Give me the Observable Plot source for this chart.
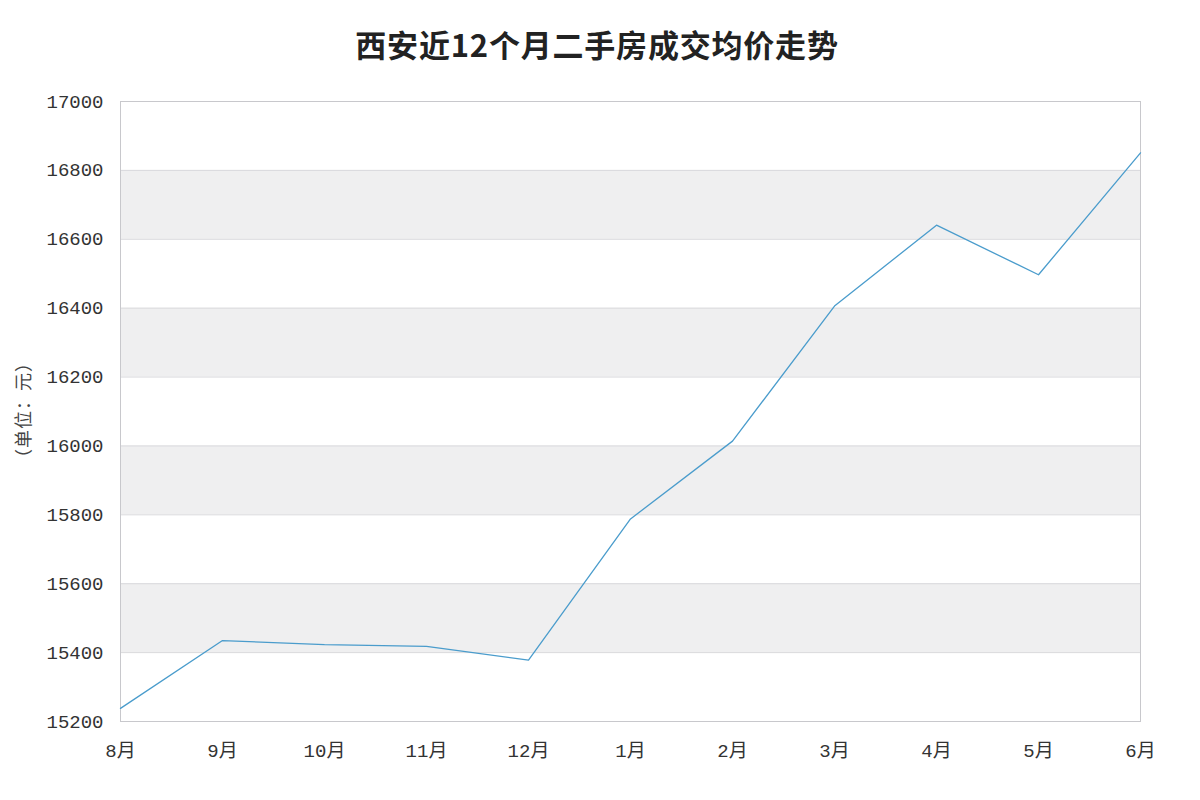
<!DOCTYPE html>
<html>
<head>
<meta charset="utf-8">
<script src="https://cdn.jsdelivr.net/npm/d3@7"></script>
<script src="https://cdn.jsdelivr.net/npm/@observablehq/plot@0.6"></script>
<style>
  html, body { margin: 0; padding: 0; background: #fff; }
  #wrap { position: relative; width: 1200px; height: 800px; }
  #title { position: absolute; left: 0; top: 21px; width: 1194px; text-align: center;
    font-family: "Noto Sans CJK SC", sans-serif; font-weight: bold; font-size: 31px; color: #222; letter-spacing: 0.8px; }
  #ylab { position: absolute; left: 22px; top: 410px; transform: translate(-50%, -50%) rotate(-90deg);
    font-family: "Noto Sans CJK SC", sans-serif; font-size: 18px; color: #444; white-space: nowrap; letter-spacing: 1px; }
</style>
</head>
<body>
<div id="wrap">
  <div id="chart"></div>
  <div id="title">西安近12个月二手房成交均价走势</div>
  <div id="ylab">（单位：元）</div>
</div>
<script>
const months = ["8月","9月","10月","11月","12月","1月","2月","3月","4月","5月","6月"];
const prices = [15238, 15435, 15423, 15418, 15378, 15788, 16014, 16406, 16641, 16497, 16851];
const yTicks = [15200, 15400, 15600, 15800, 16000, 16200, 16400, 16600, 16800, 17000];
const bandLo = [15400, 15800, 16200, 16600];
const bandHi = [15600, 16000, 16400, 16800];

const data = months.map((m, i) => ({month: m, price: prices[i]}));
const bands = bandLo.map((lo, i) => ({lo, hi: bandHi[i]}));

const chart = Plot.plot({
  width: 1200,
  height: 800,
  marginTop: 101,
  marginBottom: 79,
  marginLeft: 120,
  marginRight: 60,
  style: {fontFamily: "'Liberation Mono', 'Noto Sans CJK SC', monospace", fontSize: "19px", color: "#333", background: "#fff"},
  x: {type: "point", domain: months, padding: 0, label: null, tickSize: 0, tickPadding: 22},
  y: {domain: [15200, 17000], ticks: yTicks, label: null, tickSize: 0, tickPadding: 17, tickFormat: d => String(d)},
  marks: [
    Plot.rect(bands, {y1: "lo", y2: "hi", fill: "#efeff0"}),
    Plot.ruleY(yTicks, {stroke: "#d9d9dc", strokeWidth: 1}),
    Plot.frame({stroke: "#c8c8cc", strokeWidth: 1}),
    Plot.line(data, {x: "month", y: "price", stroke: "#4a9ccc", strokeWidth: 1.3})
  ]
});
document.getElementById("chart").appendChild(chart);
</script>
</body>
</html>
